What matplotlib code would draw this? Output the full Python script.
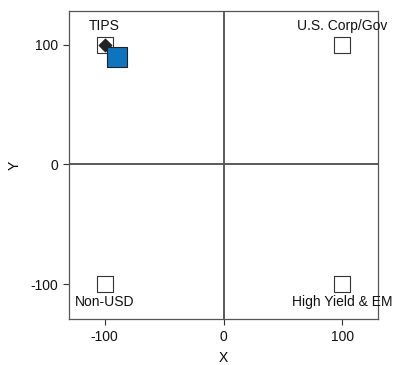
import matplotlib
matplotlib.use("Agg")
import matplotlib.pyplot as plt

plt.rcParams['font.family'] = ['Liberation Sans', 'DejaVu Sans']
plt.rcParams['axes.unicode_minus'] = False

labels = ["TIPS", "U.S. Corp/Gov", "Non-USD", "High Yield & EM"]
xs = [-100, 100, -100, 100]
ys = [100, 100, -100, -100]
label_pos = ["above", "above", "below", "below"]

current_x = [-100]
current_y = [100]
target_x = [-90]
target_y = [90]

xticks = [-100, 0, 100]
yticks = [-100, 0, 100]

fig = plt.figure(figsize=(3.94, 3.65), dpi=100)
ax = fig.add_axes([69 / 394, 46 / 365, 309 / 394, 308 / 365])

ax.axvline(0, color='#5a5a5a', lw=1.4, zorder=1)
ax.axhline(0, color='#5a5a5a', lw=1.4, zorder=1)

ax.scatter(xs, ys, marker='s', s=125, facecolor='white', edgecolor='#333333', linewidths=0.8, zorder=3)
ax.scatter(current_x, current_y, marker='D', s=40, facecolor='#222222', edgecolor='#222222', zorder=4)
ax.scatter(target_x, target_y, marker='s', s=190, facecolor='#0f73bd', edgecolor='#222222', linewidths=0.8, zorder=5)

for lab, x, y, p in zip(labels, xs, ys, label_pos):
    if p == "above":
        ax.annotate(lab, (x, y), xytext=(0, 8), textcoords='offset points', ha='center', va='bottom', fontsize=10, color='#111111')
    else:
        ax.annotate(lab, (x, y), xytext=(0, -8), textcoords='offset points', ha='center', va='top', fontsize=10, color='#111111')

ax.set_xlim(-130, 130)
ax.set_ylim(-129, 128)
ax.set_xticks(xticks)
ax.set_yticks(yticks)
ax.set_xticklabels([str(v) for v in xticks])
ax.set_yticklabels([str(v) for v in yticks])
ax.tick_params(direction='out', length=4.5, width=0.8, colors='#333333', labelsize=10, labelcolor='#111111')
for s in ax.spines.values():
    s.set_color('#555555')
    s.set_linewidth(0.9)
ax.set_xlabel('X', fontsize=10, labelpad=5)
ax.set_ylabel('Y', fontsize=10)
ax.yaxis.set_label_coords(-0.152, 0.5)

fig.savefig('out.png', dpi=100, facecolor='white')
